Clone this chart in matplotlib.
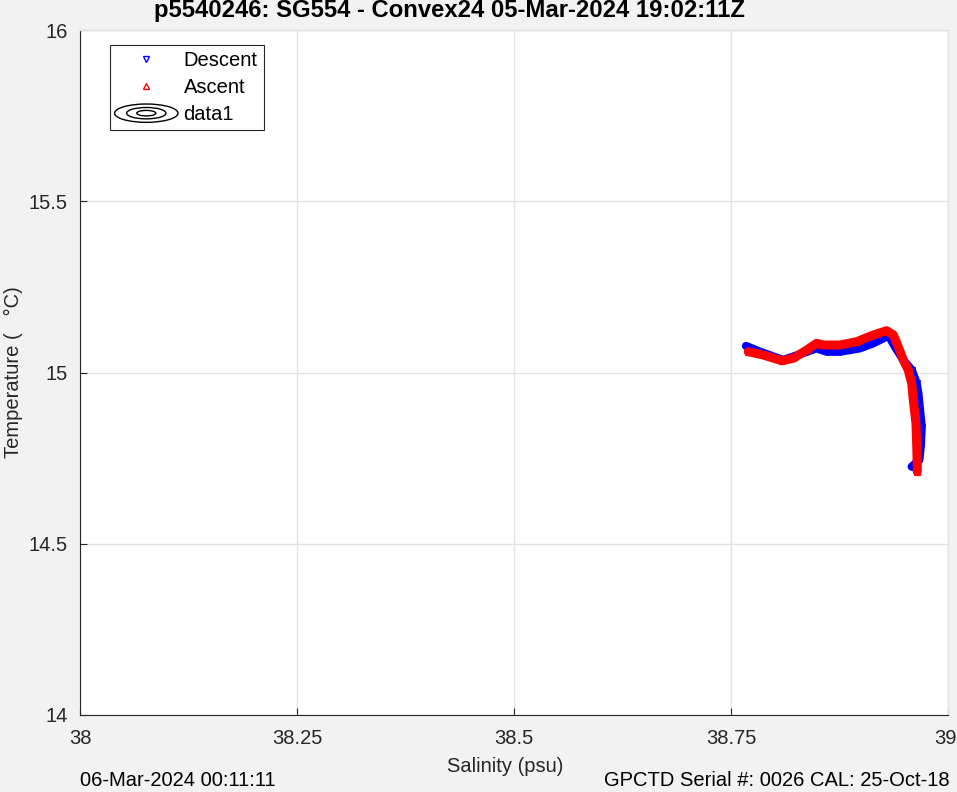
import numpy as np
import matplotlib
matplotlib.use("Agg")
import matplotlib.pyplot as plt
import matplotlib.transforms as mtransforms
from matplotlib.lines import Line2D
from matplotlib.patches import Ellipse
from matplotlib.legend_handler import HandlerBase

plt.rcParams["font.family"] = ["Liberation Sans", "DejaVu Sans"]

# -------------------- data --------------------
desc_sal = [38.7673, 38.7834, 38.8099, 38.8214, 38.8372, 38.8487, 38.8602,
            38.8756, 38.8986, 38.9139, 38.9254, 38.9312, 38.9389, 38.9485,
            38.9582, 38.9639, 38.9658, 38.9677, 38.9697, 38.9685, 38.9669,
            38.9582]
desc_temp = [15.0774, 15.0607, 15.0365, 15.0461, 15.0607, 15.0707, 15.0607,
             15.0607, 15.0707, 15.0853, 15.0999, 15.1095, 15.0753, 15.0365,
             15.0073, 14.9685, 14.9393, 14.8905, 14.8418, 14.7834, 14.7445,
             14.7250]

asc_sal = [38.7699, 38.7872, 38.8084, 38.8218, 38.8372, 38.8487, 38.8563,
           38.8756, 38.8948, 38.9139, 38.9294, 38.9370, 38.9427, 38.9485,
           38.9542, 38.9582, 38.9600, 38.9631, 38.9639, 38.9646, 38.9646]
asc_temp = [15.0607, 15.0511, 15.0345, 15.0415, 15.0657, 15.0853, 15.0803,
            15.0803, 15.0899, 15.1095, 15.1221, 15.1095, 15.0753, 15.0365,
            15.0073, 14.9685, 14.9197, 14.8517, 14.7933, 14.7250, 14.7104]

x_ticks = [38, 38.25, 38.5, 38.75, 39]
x_tick_labels = ["38", "38.25", "38.5", "38.75", "39"]
y_ticks = [14, 14.5, 15, 15.5, 16]
y_tick_labels = ["14", "14.5", "15", "15.5", "16"]

TITLE = "p5540246: SG554 - Convex24 05-Mar-2024 19:02:11Z"
LEFT_NOTE = "06-Mar-2024 00:11:11"
RIGHT_NOTE = "GPCTD Serial #: 0026 CAL: 25-Oct-18"

BG = "#f2f2f2"
AXC = "#262626"
GRIDC = "#e3e3e3"
FS = 14.5


class ContourHandler(HandlerBase):
    # concentric ellipses like the MATLAB contour legend icon
    def create_artists(self, legend, orig, xd, yd, w, h, fs, trans):
        cx, cy = xd + w / 2, yd + h / 2
        arts = []
        for k in (1.0, 0.62, 0.3):
            e = Ellipse((cx, cy), w * 1.05 * k, h * 1.3 * k, fill=False,
                        edgecolor="black", lw=1.0, transform=trans)
            arts.append(e)
        return arts


fig = plt.figure(figsize=(9.57, 7.92), dpi=100, facecolor=BG)
ax = fig.add_axes([80 / 957, 1 - 715 / 792, 868 / 957, 685 / 792])
ax.set_facecolor("white")

ax.plot(desc_sal, desc_temp, color="blue", lw=6, solid_joinstyle="round",
        solid_capstyle="round", zorder=3)
ax.plot(desc_sal, desc_temp, ls="none", marker="v", ms=5, mfc="none",
        mec="blue", mew=0.8, zorder=3)
ax.plot(asc_sal, asc_temp, color="red", lw=6.5, solid_joinstyle="round",
        solid_capstyle="round", zorder=4)
ax.plot(asc_sal, asc_temp, ls="none", marker="^", ms=5, mfc="none",
        mec="red", mew=0.8, zorder=4)

ax.set_xlim(38, 39)
ax.set_ylim(14, 16)
ax.set_xticks(x_ticks)
ax.set_xticklabels(x_tick_labels)
ax.set_yticks(y_ticks)
ax.set_yticklabels(y_tick_labels)
ax.grid(True, color=GRIDC, lw=1)
ax.set_axisbelow(True)
ax.tick_params(direction="in", length=5, width=0.8, color=AXC,
               labelcolor=AXC, labelsize=FS)
ax.tick_params(axis="x", pad=10)
ax.tick_params(axis="y", pad=9)
# last x label sits against the figure edge: nudge it in a bit
lab = ax.get_xticklabels()[-1]
lab.set_transform(lab.get_transform() +
                  mtransforms.ScaledTranslation(-3 / 100, 0, fig.dpi_scale_trans))
for s in ("left", "bottom"):
    ax.spines[s].set_color(AXC)
    ax.spines[s].set_linewidth(0.8)
for s in ("top", "right"):
    ax.spines[s].set_color(GRIDC)
    ax.spines[s].set_linewidth(1)

ax.set_xlabel("Salinity (psu)", fontsize=FS, color=AXC)
ax.xaxis.set_label_coords((505 - 80) / 868, (715 - 766) / 685)
ax.xaxis.label.set_va("center")
ax.set_ylabel("Temperature (   \u00b0C)", fontsize=FS, color=AXC)
ax.yaxis.set_label_coords((13 - 80) / 868, (715 - 372) / 685)
ax.yaxis.label.set_va("center")

h_desc = Line2D([], [], ls="none", marker="v", ms=5, mfc="none", mec="blue", mew=1)
h_asc = Line2D([], [], ls="none", marker="^", ms=5, mfc="none", mec="red", mew=1)
h_ctr = Line2D([], [], color="black")
leg = ax.legend([h_desc, h_asc, h_ctr], ["Descent", "Ascent", "data1"],
                handler_map={h_ctr: ContourHandler()},
                loc="upper left", bbox_to_anchor=(0.0346, 0.978),
                fontsize=FS, fancybox=False, framealpha=1, edgecolor=AXC,
                handlelength=3.0, handletextpad=0.35, borderpad=0.3,
                labelspacing=0.4, borderaxespad=0)
leg.get_frame().set_linewidth(0.8)

fig.text(450 / 957, 1 - 11 / 792, TITLE, ha="center", va="center",
         fontsize=17.2, fontweight="bold", color="black")
fig.text(80 / 957, 1 - 781 / 792, LEFT_NOTE, ha="left", va="center",
         fontsize=FS, color="black")
fig.text(950 / 957, 1 - 781 / 792, RIGHT_NOTE, ha="right", va="center",
         fontsize=FS, color="black")

fig.savefig("out.png", dpi=100, facecolor=BG)
